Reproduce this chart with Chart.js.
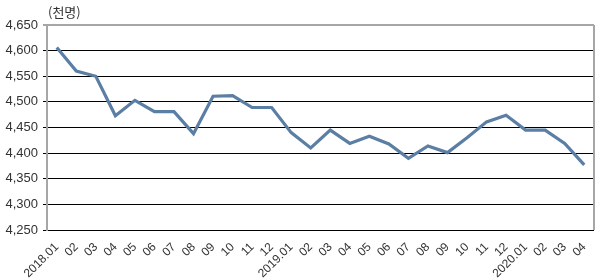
<!DOCTYPE html>
<html>
<head>
<meta charset="utf-8">
<script src="https://cdn.jsdelivr.net/npm/chart.js@4"></script>
<style>
  html, body { margin: 0; padding: 0; background: #fff; }
  #wrap { width: 599px; height: 280px; }
</style>
</head>
<body>
<div id="wrap"><canvas id="lineChart" width="599" height="280"></canvas></div>
<script>
// 월별 데이터 (천명)
const months = ["2018.01", "02", "03", "04", "05", "06", "07", "08", "09", "10", "11", "12",
  "2019.01", "02", "03", "04", "05", "06", "07", "08", "09", "10", "11", "12",
  "2020.01", "02", "03", "04"];
const values = [4606, 4560, 4550, 4473, 4503, 4481, 4481, 4438, 4511, 4512, 4489, 4489,
  4440, 4410, 4445, 4419, 4433, 4418, 4390, 4414, 4401, 4430, 4461, 4474,
  4445, 4445, 4419, 4377];
const yMin = 4250;
const yMax = 4650;
const unitLabel = "(천명)";

const frame = {
  id: "frame",
  afterDraw(chart) {
    const { ctx, chartArea: a } = chart;
    ctx.save();
    ctx.strokeStyle = "#a6a6a6";
    ctx.lineWidth = 2;
    ctx.beginPath();
    ctx.moveTo(a.right, a.top);
    ctx.lineTo(a.right, a.bottom);
    ctx.stroke();
    ctx.fillStyle = "#333";
    ctx.font = "13px 'Noto Sans CJK KR', sans-serif";
    ctx.textBaseline = "middle";
    ctx.fillText(unitLabel, 48, 12);
    ctx.restore();
  }
};

new Chart(document.getElementById("lineChart").getContext("2d"), {
  type: "line",
  data: {
    labels: months,
    datasets: [{
      data: values,
      borderColor: "#5b7ea4",
      borderWidth: 3.2,
      pointRadius: 0,
      tension: 0,
      fill: false
    }]
  },
  options: {
    responsive: false,
    animation: false,
    layout: { padding: { top: 25, right: 5, left: 0, bottom: 0 } },
    plugins: { legend: { display: false }, tooltip: { enabled: false } },
    scales: {
      x: {
        offset: true,
        grid: { display: false },
        border: { display: false },
        ticks: {
          minRotation: 45, maxRotation: 45, autoSkip: false,
          color: "#333", padding: 2,
          font: { family: "'Liberation Sans', Arial, sans-serif", size: 12 }
        },
        afterFit(s) { s.height = 50; }
      },
      y: {
        min: yMin, max: yMax,
        ticks: {
          stepSize: 50, color: "#333", padding: 5,
          font: { family: "'Liberation Sans', Arial, sans-serif", size: 13 },
          callback: v => v.toLocaleString("en-US")
        },
        grid: {
          color: c => (c.tick && c.tick.value === yMax) ? "#a6a6a6" : "#000",
          lineWidth: c => (c.tick && c.tick.value === yMax) ? 2 : 1,
          drawTicks: true, tickLength: 4
        },
        border: { color: "#a6a6a6", width: 2 },
        afterFit(s) { s.width = 47; }
      }
    }
  },
  plugins: [frame]
});
</script>
</body>
</html>
